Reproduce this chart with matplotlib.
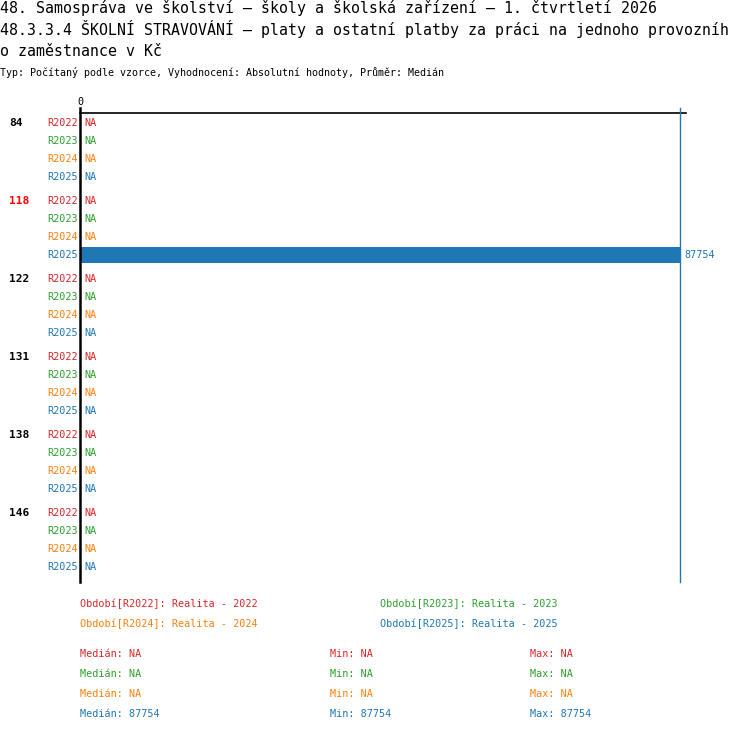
import numpy as np
import matplotlib
matplotlib.use("Agg")
import matplotlib.pyplot as plt

# --- data ---
groups = ["84", "118", "122", "131", "138", "146"]
highlight_group = "118"
periods = ["R2022", "R2023", "R2024", "R2025"]
period_names = ["Realita - 2022", "Realita - 2023", "Realita - 2024", "Realita - 2025"]
colors = ["#d62728", "#2ca02c", "#ff7f0e", "#1f77b4"]
nan = np.nan
vals_r2022 = [nan, nan, nan, nan, nan, nan]
vals_r2023 = [nan, nan, nan, nan, nan, nan]
vals_r2024 = [nan, nan, nan, nan, nan, nan]
vals_r2025 = [nan, 87754, nan, nan, nan, nan]
values = [vals_r2022, vals_r2023, vals_r2024, vals_r2025]

title_lines = [
    "48. Samospráva ve školství – školy a školská zařízení – 1. čtvrtletí 2026",
    "48.3.3.4 ŠKOLNÍ STRAVOVÁNÍ – platy a ostatní platby za práci na jednoho provozníh",
    "o zaměstnance v Kč",
]
subtitle = "Typ: Počítaný podle vzorce, Vyhodnocení: Absolutní hodnoty, Průměr: Medián"

W, H = 750, 732
mono = "DejaVu Sans Mono"

fig = plt.figure(figsize=(W / 100, H / 100), dpi=100)
fig.patch.set_facecolor("white")


def fx(px):
    return px / W


def fy(py):
    return 1 - py / H


# axes area in pixels: x 80..686, y 113..582
ax_left, ax_right, ax_top, ax_bot = 80, 686, 113, 582
ax = fig.add_axes([fx(ax_left), fy(ax_bot), fx(ax_right - ax_left), (ax_bot - ax_top) / H])
ax.set_axis_off()

vmax = np.nanmax([np.nanmax(v) for v in values])
xmax = vmax * (ax_right - ax_left) / (680 - ax_left)
ax.set_xlim(0, xmax)
ax.set_ylim(ax_bot - ax_top, 0)
px = xmax / (ax_right - ax_left)  # one pixel in data units

row_h, group_h, first = 18, 78, 10

for gi, g in enumerate(groups):
    y0 = first + gi * group_h
    ax.text(-71 * px, y0, g, ha="left", va="center",
            fontsize=8, fontweight="bold", family=mono,
            color="#ff0000" if g == highlight_group else "black")
    for pi, p in enumerate(periods):
        y = y0 + pi * row_h
        ax.text(-2 * px, y, p, ha="right", va="center",
                fontsize=7.3, family=mono, color=colors[pi])
        v = values[pi][gi]
        if np.isnan(v):
            ax.text(4 * px, y, "NA", ha="left", va="center",
                    fontsize=7.3, family=mono, color=colors[pi])
        else:
            ax.barh(y, v, height=16, color=colors[pi])
            ax.text(v + 4 * px, y, f"{v:.0f}", ha="left",
                    va="center", fontsize=7.3, family=mono, color=colors[pi], clip_on=False)

# axis lines
ax.plot([0, xmax], [0, 0], color="black", lw=1.2, clip_on=False)
ax.plot([0, 0], [-5, ax_bot - ax_top], color="black", lw=1.8, clip_on=False)
ax.plot([vmax, vmax], [-5, ax_bot - ax_top], color=colors[3], lw=1, clip_on=False)
ax.text(0, -11, "0", ha="center", va="center", fontsize=7.3, family=mono)

# titles
for i, line in enumerate(title_lines):
    fig.text(fx(0), fy(8 + i * 21.5), line, ha="left", va="center",
             fontsize=10.7, family=mono)
fig.text(fx(0), fy(73), subtitle, ha="left", va="center", fontsize=7.2, family=mono)

# legend
leg_pos = [(80, 604), (380, 604), (80, 624), (380, 624)]
for pi, p in enumerate(periods):
    x, y = leg_pos[pi]
    fig.text(fx(x), fy(y), f"Období[{p}]: {period_names[pi]}", ha="left", va="center",
             fontsize=7.3, family=mono, color=colors[pi])

# stats
for pi, p in enumerate(periods):
    arr = np.array([v for v in values[pi] if not np.isnan(v)])
    if len(arr):
        med, mn, mx = f"{np.median(arr):.0f}", f"{arr.min():.0f}", f"{arr.max():.0f}"
    else:
        med = mn = mx = "NA"
    y = 654 + pi * 20
    fig.text(fx(80), fy(y), f"Medián: {med}", ha="left", va="center",
             fontsize=7.3, family=mono, color=colors[pi])
    fig.text(fx(330), fy(y), f"Min: {mn}", ha="left", va="center",
             fontsize=7.3, family=mono, color=colors[pi])
    fig.text(fx(530), fy(y), f"Max: {mx}", ha="left", va="center",
             fontsize=7.3, family=mono, color=colors[pi])

fig.savefig("out.png", dpi=100, facecolor="white")
